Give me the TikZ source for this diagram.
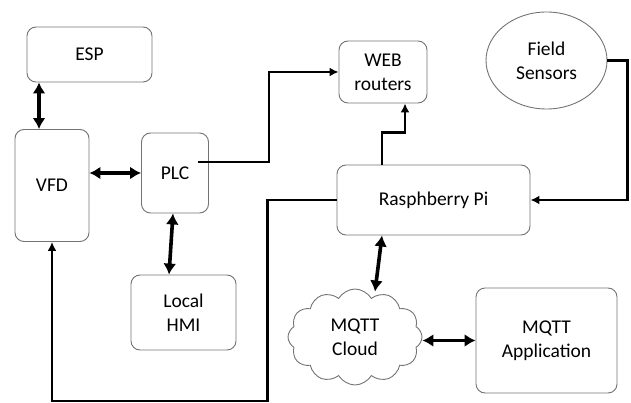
\documentclass[tikz,border=0pt]{standalone}
\usepackage{fontspec}
\setmainfont{Carlito}
\usepackage{tikz}
\usetikzlibrary{arrows.meta,shapes.geometric,shapes.symbols}

\begin{document}
\begin{tikzpicture}[
    x=1pt,y=-1pt,
    box/.style={draw=black!55,line width=0.9pt,rounded corners=9pt,align=center,
        font=\fontsize{19.5}{24}\selectfont,inner sep=2pt},
    link/.style={-{Latex[length=9pt,width=9pt]},line width=2.8pt},
    duplex/.style={{Latex[length=11pt,width=13pt]}-{Latex[length=11pt,width=13pt]},line width=3.6pt}
]
\useasboundingbox (0,0) rectangle (631,403);
\node[box,minimum width=125pt,minimum height=55pt] (esp) at (89.5,54.5) {ESP};
\node[box,minimum width=74pt,minimum height=112pt] (vfd) at (52,185.5) {VFD};
\node[box,minimum width=67pt,minimum height=80pt] (plc) at (175,173) {PLC};
\node[box,minimum width=105pt,minimum height=75pt] (hmi) at (183.5,312.5) {Local\\HMI};
\node[box,minimum width=88pt,minimum height=62pt] (web) at (383,72) {WEB\\routers};
\node[box,ellipse,minimum width=121pt,minimum height=97pt] (field) at (546.5,60.5)
    {Field\\Sensors};
\node[box,minimum width=193pt,minimum height=70pt] (pi) at (433.5,200) {Rasphberry Pi};
\node[box,sharp corners,cloud,cloud puffs=12,cloud puff arc=120,aspect=1.4,
    minimum width=134pt,minimum height=96pt] (cloud) at (355,337) {MQTT\\Cloud};
\node[box,minimum width=141pt,minimum height=105pt] (app) at (546.5,340.5)
    {MQTT\\Application};
\draw[duplex] ([xshift=-13pt]vfd.north) -- ([xshift=-13pt]vfd.north |- esp.south);
\draw[duplex] (vfd.east |- plc.west) -- (plc.west);
\draw[duplex] ([xshift=-2pt]plc.south) -- ([xshift=-14.5pt]hmi.north);
\draw[link] ([xshift=-11pt,yshift=11pt]plc.east) -- ++(71,0) |- (web.west);
\draw[link] ([xshift=-51.5pt]pi.north) -- ++(0,-32) -| ([xshift=22pt]web.south);
\draw[link] (field.east) -- ++(20,0) |- (pi.east);
\draw[link] (pi.west) -- ++(-69,0) -- ++(0,201) -| (vfd.south);
\draw[duplex] ([xshift=-51.5pt]pi.south) -- ([xshift=20pt,yshift=-3pt]cloud.north);
\draw[duplex] (cloud.east |- app.west) -- (app.west);
\end{tikzpicture}
\end{document}
